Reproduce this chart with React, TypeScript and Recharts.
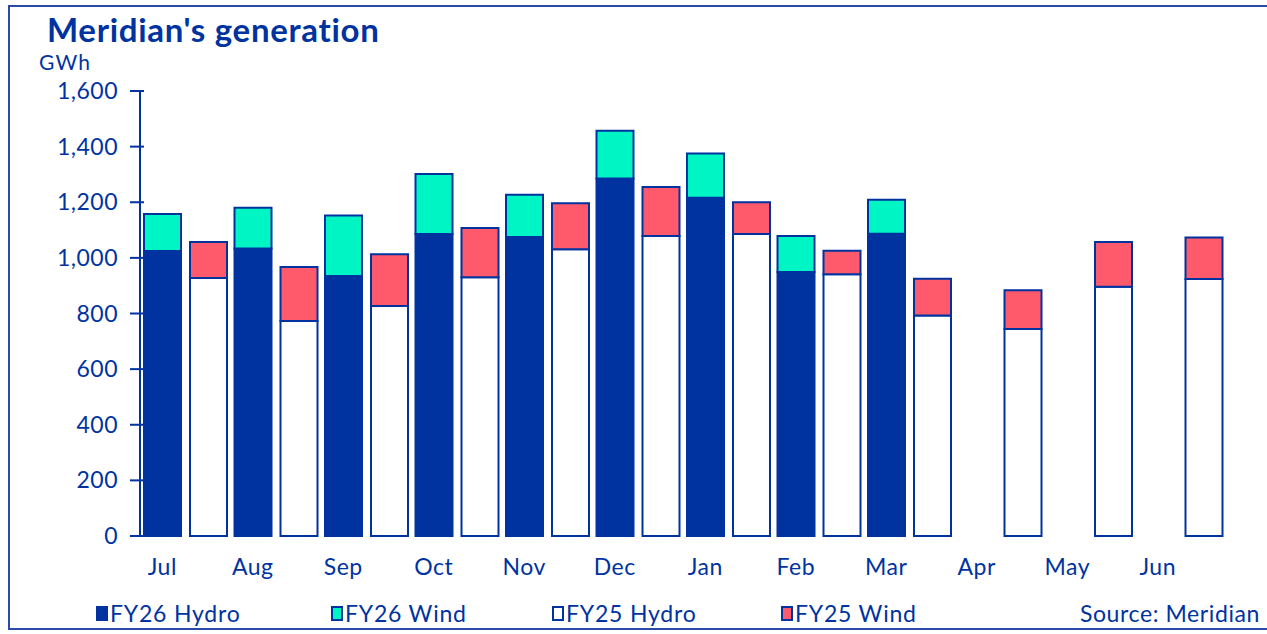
import React from "react";
import { BarChart, Bar, XAxis, YAxis } from "recharts";

const months = ["Jul", "Aug", "Sep", "Oct", "Nov", "Dec", "Jan", "Feb", "Mar", "Apr", "May", "Jun"];
const fy26Hydro = [1025, 1034, 935, 1086, 1075, 1285, 1216, 949, 1087, null, null, null];
const fy26Wind = [133, 146, 217, 216, 152, 172, 159, 130, 122, null, null, null];
const fy25Hydro = [928, 773, 827, 930, 1031, 1079, 1086, 941, 793, 744, 896, 924];
const fy25Wind = [129, 194, 186, 177, 165, 176, 114, 85, 132, 140, 161, 149];
const yTicks = [0, 200, 400, 600, 800, 1000, 1200, 1400, 1600];

const BLUE = "#0033a0";
const AQUA = "#00f5c4";
const CORAL = "#ff5a6c";
const FONT = "Lato, 'DejaVu Sans', sans-serif";

const data = months.map((m, i) => ({
  month: m,
  fy26Hydro: fy26Hydro[i],
  fy26Wind: fy26Wind[i],
  fy25Hydro: fy25Hydro[i],
  fy25Wind: fy25Wind[i],
}));

const legendItems = [
  { label: "FY26 Hydro", fill: BLUE, left: 96 },
  { label: "FY26 Wind", fill: AQUA, left: 331 },
  { label: "FY25 Hydro", fill: "#ffffff", left: 552 },
  { label: "FY25 Wind", fill: CORAL, left: 781 },
];

const YTick = ({ x, y, payload }: any) => (
  <g>
    <line x1={x - 10} x2={x + 4} y1={y} y2={y} stroke={BLUE} strokeWidth={2} />
    <text x={x - 22} y={y} dy="0.35em" textAnchor="end" fill={BLUE} fontSize={23} letterSpacing={0.5} fontFamily={FONT}>
      {payload.value.toLocaleString("en-US")}
    </text>
  </g>
);

const XTick = ({ x, y, payload }: any) => (
  <text x={x - 23} y={y + 31} dy="0.35em" textAnchor="middle" fill={BLUE} fontSize={23} letterSpacing={0.5} fontFamily={FONT}>
    {payload.value}
  </text>
);

export default function App() {
  const legendText = { fontSize: 23, letterSpacing: 0.8, color: BLUE, whiteSpace: "nowrap" as const };
  return (
    <div style={{ position: "absolute", left: 0, top: 0, width: 1267, height: 634, background: "#fff", fontFamily: FONT }}>
      <div style={{ position: "absolute", left: 8, top: 5, width: 1270, height: 625, border: "2px solid #2a4aa8", boxSizing: "border-box" }} />
      <div style={{ position: "absolute", left: 47, top: 12, fontSize: 33, lineHeight: "34px", letterSpacing: 0.7, fontWeight: 700, color: BLUE, whiteSpace: "nowrap" }}>
        Meridian's generation
      </div>
      <div style={{ position: "absolute", left: 39, top: 51, fontSize: 21, lineHeight: "22px", letterSpacing: 1.2, color: BLUE }}>GWh</div>
      <BarChart
        width={1267}
        height={634}
        data={data}
        margin={{ top: 91, right: 41, left: 0, bottom: 58 }}
        barGap={9}
        barCategoryGap={4}
        style={{ position: "absolute", left: 0, top: 0 }}
      >
        <XAxis dataKey="month" axisLine={false} tickLine={false} tickSize={0} tickMargin={0} height={40} tick={<XTick />} interval={0} />
        <YAxis
          width={140}
          domain={[0, 1600]}
          ticks={yTicks}
          axisLine={{ stroke: BLUE, strokeWidth: 2 }}
          tickLine={false}
          tickSize={0}
          tickMargin={0}
          tick={<YTick />}
        />
        <Bar dataKey="fy26Hydro" stackId="fy26" barSize={37} fill={BLUE} stroke={BLUE} strokeWidth={2} isAnimationActive={false} />
        <Bar dataKey="fy26Wind" stackId="fy26" barSize={37} fill={AQUA} stroke={BLUE} strokeWidth={2} isAnimationActive={false} />
        <Bar dataKey="fy25Hydro" stackId="fy25" barSize={37} fill="#ffffff" stroke={BLUE} strokeWidth={2} isAnimationActive={false} />
        <Bar dataKey="fy25Wind" stackId="fy25" barSize={37} fill={CORAL} stroke={BLUE} strokeWidth={2} isAnimationActive={false} />
      </BarChart>
      {legendItems.map((it) => (
        <div key={it.label} style={{ position: "absolute", left: it.left, top: 599, display: "flex", alignItems: "center", ...legendText }}>
          <span style={{ display: "inline-block", width: 8, height: 11, background: it.fill, border: `2px solid ${BLUE}`, marginRight: 2 }} />
          {it.label}
        </div>
      ))}
      <div style={{ position: "absolute", right: 7, top: 599, ...legendText, letterSpacing: 0.6 }}>Source: Meridian</div>
    </div>
  );
}
